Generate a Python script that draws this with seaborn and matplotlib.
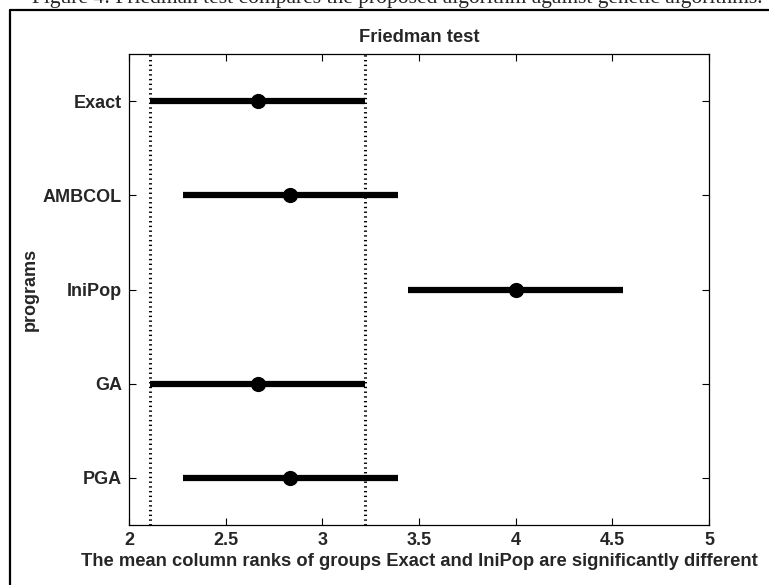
import numpy as np
import pandas as pd
import matplotlib
matplotlib.use("Agg")
import matplotlib.pyplot as plt
import seaborn as sns

# --- data ---
programs = ["Exact", "AMBCOL", "IniPop", "GA", "PGA"]
mean_ranks = [2.667, 2.833, 4.0, 2.667, 2.833]
ci_low = [2.111, 2.278, 3.444, 2.111, 2.278]
ci_high = [3.222, 3.389, 4.556, 3.222, 3.389]
x_ticks = [2, 2.5, 3, 3.5, 4, 4.5, 5]

df = pd.DataFrame({"program": programs, "mean_rank": mean_ranks,
                   "low": ci_low, "high": ci_high})

sns.set_theme(style="white")
plt.rcParams["font.family"] = ["Liberation Sans", "DejaVu Sans"]

fig = plt.figure(figsize=(7.69, 5.85), dpi=100)
ax = fig.add_axes([129 / 769, 1 - 525 / 585, 580 / 769, 471 / 585])

# limits of the selected group (Exact)
ax.axvline(ci_low[0], color="black", lw=2.2, linestyle=(0, (0.45, 1.1)), zorder=1)
ax.axvline(ci_high[0], color="black", lw=2.2, linestyle=(0, (0.45, 1.1)), zorder=1)

ypos = np.arange(len(programs))
ax.hlines(ypos, df["low"], df["high"], color="black", lw=4.5, zorder=2)
sns.scatterplot(x=df["mean_rank"], y=ypos, ax=ax, color="black", s=120,
                marker="o", edgecolor="black", linewidth=0, zorder=3, legend=False)

ax.set_xlim(2, 5)
ax.set_ylim(len(programs) - 0.5, -0.5)
ax.set_xticks(x_ticks)
ax.set_xticklabels([f"{t:g}" for t in x_ticks])
ax.set_yticks(ypos)
ax.set_yticklabels(programs)

ax.tick_params(direction="in", length=5, width=0.8, color="black",
               top=True, right=True, bottom=True, left=True,
               labelsize=13, pad=5)
for lab in ax.get_xticklabels() + ax.get_yticklabels():
    lab.set_fontweight("bold")
for sp in ax.spines.values():
    sp.set_color("black")
    sp.set_linewidth(0.9)

ax.set_title("Friedman test", fontsize=13.2, fontweight="bold", pad=9)
ax.set_xlabel("The mean column ranks of groups Exact and IniPop are significantly different",
              fontsize=13.2, fontweight="bold", labelpad=3)
ax.set_ylabel("programs", fontsize=13, fontweight="bold", labelpad=3)

# page frame and clipped caption from the source document
fig.add_artist(plt.Line2D([10 / 769, 10 / 769], [0, 1 - 10 / 585],
                          transform=fig.transFigure, color="black", lw=1.6))
fig.add_artist(plt.Line2D([10 / 769, 1], [1 - 10 / 585, 1 - 10 / 585],
                          transform=fig.transFigure, color="black", lw=1.6))
fig.text(32 / 769, 1 - 3 / 585,
         "Figure 4: Friedman test compares the proposed algorithm against genetic algorithms.",
         family=["Liberation Serif", "DejaVu Serif"], fontsize=15.5,
         ha="left", va="baseline")

fig.savefig("out.png", dpi=100, facecolor="white")
